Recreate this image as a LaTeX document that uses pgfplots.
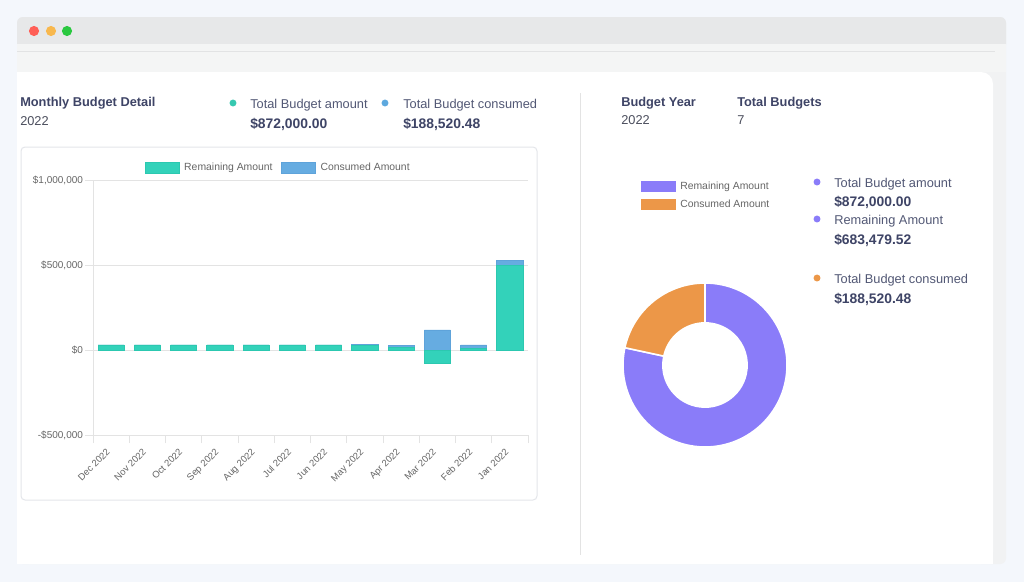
\documentclass[border=0pt]{standalone}
\usepackage{fontspec}
\setmainfont{Liberation Sans}
\usepackage{pgfplots}
\pgfplotsset{compat=1.18}
\usepackage{pgfplotstable}
\usetikzlibrary{calc}

\definecolor{pagebg}{HTML}{F4F7FC}
\definecolor{hdr}{HTML}{E7E8E9}
\definecolor{subhdr}{HTML}{F4F5F5}
\definecolor{winline}{HTML}{E2E3E4}
\definecolor{winright}{HTML}{F1F2F3}
\definecolor{dotred}{HTML}{FF5F57}
\definecolor{dotyel}{HTML}{F8B84E}
\definecolor{dotgrn}{HTML}{2AC840}
\definecolor{titlec}{HTML}{3E4466}
\definecolor{labc}{HTML}{525875}
\definecolor{yearc}{HTML}{4A4D5C}
\definecolor{gridc}{HTML}{E3E3E3}
\definecolor{tickc}{HTML}{666666}
\definecolor{cardc}{HTML}{E4E6EA}
\definecolor{cteal}{HTML}{33D2BA}
\definecolor{ctealdark}{HTML}{2CC8B0}
\definecolor{cblue}{HTML}{66ACE1}
\definecolor{cbluedark}{HTML}{5EA3DA}
\definecolor{dteal}{HTML}{36C8B0}
\definecolor{dblue}{HTML}{5DA8DE}
\definecolor{cpurple}{HTML}{8A7CF9}
\definecolor{corange}{HTML}{EC9748}

% monthly budget detail (remaining / consumed)
\pgfplotstableread{
idx month rem con
0  Dec  30000  0
1  Nov  30000  0
2  Oct  30000  0
3  Sep  30000  0
4  Aug  30000  0
5  Jul  30000  0
6  Jun  30000  0
7  May  26000  4500
8  Apr  15000  14000
9  Mar  -78000 118000
10 Feb  8000   22000
11 Jan  497000 30000
}\budget

% donut totals
\def\remainingAmt{683479.52}
\def\consumedAmt{188520.48}

\newcommand{\lab}[1]{\fontsize{9.6}{11}\selectfont #1}
\newcommand{\labb}[1]{\fontsize{9.6}{11}\selectfont\bfseries #1}
\newcommand{\valb}[1]{\fontsize{10.4}{12}\selectfont\bfseries #1}

\begin{document}
\begin{tikzpicture}
\begin{scope}[x=0.75pt,y=-0.75pt]
\path[use as bounding box] (0,0) rectangle (1024,582);
\fill[pagebg] (0,0) rectangle (1024,582);
% window
\fill[winright, rounded corners=4.5pt] (17,17) rectangle (1006,564);
\fill[hdr, rounded corners=4.5pt] (17,17) rectangle (1006,50);
\fill[subhdr] (17,44) rectangle (1006,72);
\draw[winline, line width=0.75pt] (17,51.5) -- (995,51.5);
\fill[dotred] (34,31) circle[radius=3.8pt];
\fill[dotyel] (51,31) circle[radius=3.8pt];
\fill[dotgrn] (67,31) circle[radius=3.8pt];
% white panel
\fill[white, rounded corners=9pt] (17,72) rectangle (993,564);
\fill[white] (17,72) rectangle (60,564);
\fill[white] (900,520) rectangle (993,564);
% divider
\draw[gridc, line width=0.75pt] (580,93) -- (580,555);
% chart card
\draw[cardc, line width=0.75pt, rounded corners=3pt, fill=white] (21,147) rectangle (537,500);

% left header texts
\node[anchor=base west, inner sep=0, text=titlec] at (20,106) {\labb{Monthly Budget Detail}};
\node[anchor=base west, inner sep=0, text=yearc] at (20,125) {\lab{2022}};
\fill[dteal] (233,103) circle[radius=2.6pt];
\node[anchor=base west, inner sep=0, text=labc] at (250,108) {\lab{Total Budget amount}};
\node[anchor=base west, inner sep=0, text=titlec] at (250,128) {\valb{\$872,000.00}};
\fill[dblue] (385,103) circle[radius=2.6pt];
\node[anchor=base west, inner sep=0, text=labc] at (403,108) {\lab{Total Budget consumed}};
\node[anchor=base west, inner sep=0, text=titlec] at (403,128) {\valb{\$188,520.48}};

% right header texts
\node[anchor=base west, inner sep=0, text=titlec] at (621,106) {\labb{Budget Year}};
\node[anchor=base west, inner sep=0, text=yearc] at (621,124) {\lab{2022}};
\node[anchor=base west, inner sep=0, text=titlec] at (737,106) {\labb{Total Budgets}};
\node[anchor=base west, inner sep=0, text=yearc] at (737,124) {\lab{7}};

% right list
\fill[cpurple] (817,182) circle[radius=2.6pt];
\node[anchor=base west, inner sep=0, text=labc] at (834,187) {\lab{Total Budget amount}};
\node[anchor=base west, inner sep=0, text=titlec] at (834,206) {\valb{\$872,000.00}};
\fill[cpurple] (817,219) circle[radius=2.6pt];
\node[anchor=base west, inner sep=0, text=labc] at (834,224) {\lab{Remaining Amount}};
\node[anchor=base west, inner sep=0, text=titlec] at (834,244) {\valb{\$683,479.52}};
\fill[corange] (817,278) circle[radius=2.6pt];
\node[anchor=base west, inner sep=0, text=labc] at (834,283) {\lab{Total Budget consumed}};
\node[anchor=base west, inner sep=0, text=titlec] at (834,303) {\valb{\$188,520.48}};
\end{scope}

% ---------------- bar chart ----------------
\begin{axis}[
  at={(69.75pt,-326.25pt)}, anchor=south west,
  width=326.25pt, height=191.25pt, scale only axis,
  xmin=-0.5, xmax=11.5, ymin=-500000, ymax=1000000,
  ybar, bar shift=0pt, bar width=0.72,
  axis x line*=bottom, axis y line*=left,
  axis line style={gridc, line width=0.75pt, -},
  ymajorgrids, grid style={gridc, line width=0.75pt},
  xtick={-0.5,0.5,...,11.5}, xticklabels={},
  ytick={-500000,0,500000,1000000},
  yticklabels={{-\$500,000},{\$0},{\$500,000},{\$1,000,000}},
  scaled y ticks=false,
  tick align=outside, major tick length=6pt,
  tick style={gridc, line width=0.75pt},
  yticklabel style={font=\fontsize{7.5}{9}\selectfont, text=tickc, xshift=2pt},
  extra x ticks={0,1,...,11},
  extra x tick labels={Dec 2022,Nov 2022,Oct 2022,Sep 2022,Aug 2022,Jul 2022,Jun 2022,May 2022,Apr 2022,Mar 2022,Feb 2022,Jan 2022},
  extra x tick style={tick style={draw=none}, grid=none,
    xticklabel style={xshift=-4pt, yshift=-2pt, rotate=45, anchor=north east, font=\fontsize{7.1}{9}\selectfont, text=tickc, inner sep=1pt}},
  legend image code/.code={\draw[#1, line width=0.5pt] (0pt,-4.1pt) rectangle (25.5pt,4.1pt);},
  legend style={at={(0.4290,1.047)}, anchor=center, draw=none, fill=none,
    font=\fontsize{7.8}{9}\selectfont, text=tickc, legend columns=2,
    nodes={inner xsep=3.5pt},
    /tikz/every even column/.append style={column sep=3pt}},
]
\addlegendimage{fill=cteal, draw=ctealdark}
\addlegendentry{Remaining Amount}
\addlegendimage{fill=cblue, draw=cbluedark}
\addlegendentry{Consumed Amount}
\addplot[fill=cblue, draw=cbluedark, line width=0.5pt, forget plot]
  table[x=idx, y expr={max(\thisrow{rem},0)+\thisrow{con}}] {\budget};
\addplot[fill=cteal, draw=ctealdark, line width=0.5pt, forget plot]
  table[x=idx, y=rem] {\budget};
\end{axis}

% ---------------- donut ----------------
\edef\consAng{\fpeval{360*\consumedAmt/(\remainingAmt+\consumedAmt)}}
\edef\endOrange{\fpeval{90+\consAng}}
\edef\endPurple{\fpeval{\endOrange-360}}
\begin{axis}[
  at={(528.75pt,-273.75pt)}, anchor=center,
  width=123pt, height=123pt, scale only axis,
  xmin=-1, xmax=1, ymin=-1, ymax=1, hide axis, clip=false,
  legend image code/.code={\fill[#1, draw=none] (0pt,-4.1pt) rectangle (26.25pt,4.1pt);},
  legend style={at={(0.1098,1.635)}, anchor=north west, draw=none, fill=none,
    inner sep=0pt, font=\fontsize{7.8}{9}\selectfont, text=tickc,
    row sep=2.5pt, nodes={inner xsep=3pt}},
  legend cell align=left,
]
\addlegendimage{fill=cpurple}
\addlegendentry{Remaining Amount}
\addlegendimage{fill=corange}
\addlegendentry{Consumed Amount}
\fill[cpurple, draw=white, line width=1.2pt]
  ($(axis cs:0,0)+(90:61.5pt)$) arc[start angle=90, end angle=\endPurple, radius=61.5pt]
  -- ($(axis cs:0,0)+(\endPurple:31.6pt)$) arc[start angle=\endPurple, end angle=90, radius=31.6pt] -- cycle;
\fill[corange, draw=white, line width=1.2pt]
  ($(axis cs:0,0)+(90:61.5pt)$) arc[start angle=90, end angle=\endOrange, radius=61.5pt]
  -- ($(axis cs:0,0)+(\endOrange:31.6pt)$) arc[start angle=\endOrange, end angle=90, radius=31.6pt] -- cycle;
\end{axis}
\end{tikzpicture}
\end{document}
